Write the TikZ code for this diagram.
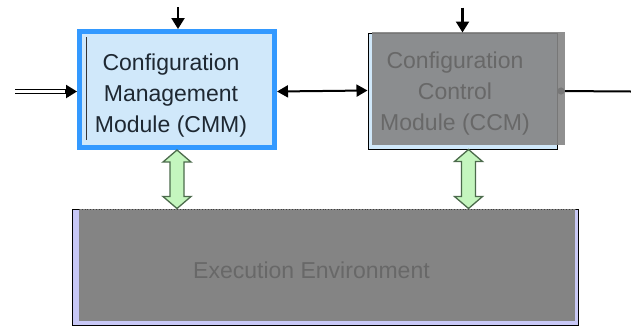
\documentclass[tikz,border=0pt]{standalone}
\usepackage{fontspec}
\setmainfont{Liberation Sans}
\usetikzlibrary{arrows.meta,calc}

\definecolor{cmmblue}{RGB}{51,153,255}
\definecolor{paleblue}{RGB}{208,232,250}
\definecolor{lavender}{RGB}{200,200,246}
\definecolor{greyfill}{RGB}{132,132,132}
\definecolor{greytext}{RGB}{104,104,104}
\definecolor{palegreen}{RGB}{196,246,190}
\definecolor{darktext}{RGB}{30,40,50}

\tikzset{
  blocktext/.style={font=\fontsize{23}{31}\selectfont, align=center, inner sep=0pt},
  arr/.style={line width=2.2pt, -{Triangle[length=11pt,width=13pt]}},
  twoarr/.style={line width=2pt, {Triangle[length=11pt,width=12pt]}-{Triangle[length=11pt,width=12pt]}},
  greenarrow/.style={fill=palegreen, draw=black!70!green!40!gray, line width=1.3pt, line join=miter}
}

\begin{document}
\begin{tikzpicture}[x=1pt,y=-1pt]
\useasboundingbox (0,0) rectangle (631,327);

% boxes
\node[draw=cmmblue, line width=5pt, fill=paleblue, minimum width=195pt, minimum height=116pt] (cmm) at (177,89.5) {};
\draw[black!80, line width=0.8pt] ([xshift=9pt,yshift=-8pt]cmm.north west) -- ([xshift=9pt,yshift=10pt]cmm.south west);
\node[draw, line width=1pt, fill=paleblue, minimum width=189pt, minimum height=116pt] (ccm) at (462.5,91) {};
\node[draw, line width=1pt, fill=lavender, minimum width=506pt, minimum height=116pt] (envbox) at (325,267) {};

% output line, partly under the grey shading
\coordinate (output) at (631,91.5);
\draw[line width=2pt, {Circle[length=7pt]}-] (ccm.east) -- (output);

% grey shading
\fill[greyfill, fill opacity=0.9] (372,32) rectangle (565,145);
\fill[greyfill] (79,209) rectangle (575,321);
\draw[black!75, line width=0.8pt, dotted] (79,209) -- (575,209);

% texts
\node[blocktext, text=darktext] (cmmtext) at (171,96) {Configuration\\Management\\Module (CMM)};
\node[blocktext, text=greytext] (ccmtext) at (455,94) {Configuration\\Control\\Module (CCM)};
\node[blocktext, text=greytext] (envtext) at (311.5,270) {Execution Environment};

% connectors
\draw[arr] (cmm.north) ++(1,-22) -- ++(0,22);
\draw[arr] (ccm.north) ++(0,-25) -- (ccm.north);
\coordinate (input) at (15,91.5);
\draw[line width=1.6pt, double distance=2.6pt, shorten >=9pt] (input) -- (input -| cmm.west);
\draw[arr] ($(input -| cmm.west)+(-12,0)$) -- (input -| cmm.west);
\draw[twoarr] (ccm.west -| cmm.east) ++(0,0.5) -- ([yshift=0.5pt]ccm.west);

\draw[greenarrow] (cmm.south) -- ++(14,12) -- ++(-7,0) -- ($(cmm.south |- envbox.north)+(7,-12)$) -- ++(7,0)
  -- (cmm.south |- envbox.north) -- ++(-14,-12) -- ++(7,0) -- ($(cmm.south)+(-7,12)$) -- ++(-7,0) -- cycle;
\draw[greenarrow] ([xshift=6pt]ccm.south) -- ++(14,12) -- ++(-7,0) -- ($([xshift=6pt]ccm.south |- envbox.north)+(7,-12)$) -- ++(7,0)
  -- ([xshift=6pt]ccm.south |- envbox.north) -- ++(-14,-12) -- ++(7,0) -- ($([xshift=6pt]ccm.south)+(-7,12)$) -- ++(-7,0) -- cycle;
\end{tikzpicture}
\end{document}
